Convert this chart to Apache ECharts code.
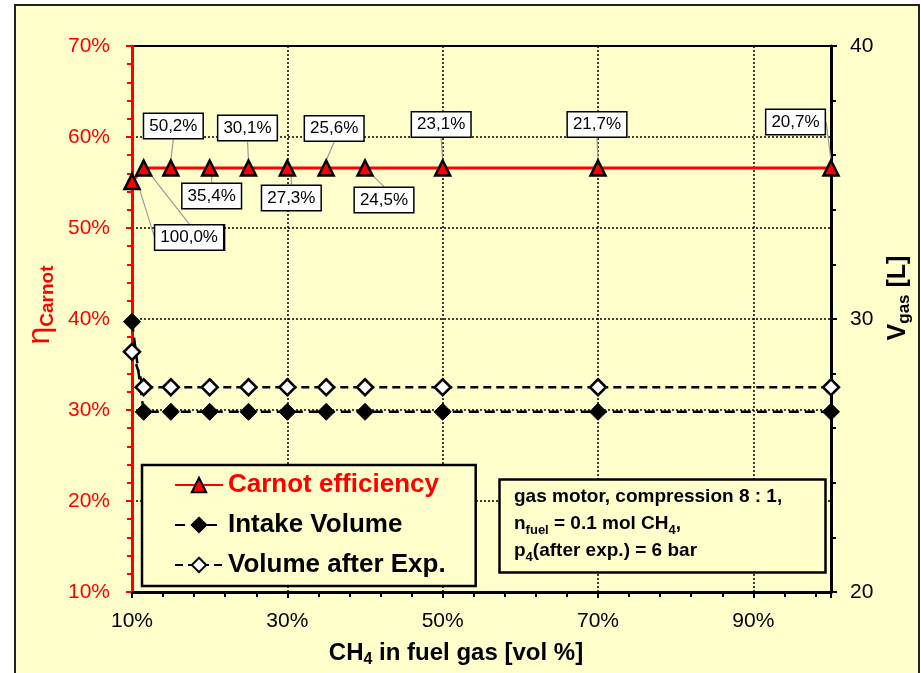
<!DOCTYPE html>
<html>
<head>
<meta charset="utf-8">
<script src="https://cdn.jsdelivr.net/npm/echarts@6/dist/echarts.min.js"></script>
<style>
  html, body { margin: 0; padding: 0; background: #ffffff; }
  #chart { width: 921px; height: 673px; }
</style>
</head>
<body>
<div id="chart"></div>
<script>
// CH4 share in the fuel gas [vol %]
const ch4Share = [10, 11.5, 15, 20, 25, 30, 35, 40, 50, 70, 100];
// Carnot efficiency [%] (left axis)
const carnotEff = [55.1, 56.6, 56.6, 56.6, 56.6, 56.6, 56.6, 56.6, 56.6, 56.6, 56.6];
// Gas volumes [L] (right axis)
const intakeVol = [29.9, 26.6, 26.6, 26.6, 26.6, 26.6, 26.6, 26.6, 26.6, 26.6, 26.6];
const expVol = [28.8, 27.5, 27.5, 27.5, 27.5, 27.5, 27.5, 27.5, 27.5, 27.5, 27.5];
// Annotation attached to each Carnot point
const pointLabels = ['100,0%', '100,0%', '50,2%', '35,4%', '30,1%', '27,3%', '25,6%', '24,5%', '23,1%', '21,7%', '20,7%'];
// Series names
const seriesNames = ['Carnot efficiency', 'Intake Volume', 'Volume after Exp.'];

// Pixel shift of each annotation box away from its point
const labelShift = [[58, 56], [45.5, 69.5], [2.5, -42], [2, 28], [-1, -40], [4, 30], [8, -39.5], [19, 32], [-1.5, -43.5], [-1, -43.5], [-35.5, -46]];

const pair = (xs, ys) => xs.map((x, i) => [x, ys[i]]);

const YELLOW = '#FFFFCC';
const FONT = 'Liberation Sans';

const chart = echarts.init(document.getElementById('chart'), null, { renderer: 'canvas' });

chart.setOption({
  animation: false,
  backgroundColor: '#ffffff',
  textStyle: { fontFamily: FONT },
  graphic: [{
    type: 'rect',
    z: -100,
    silent: true,
    shape: { x: 15, y: 5, width: 904, height: 700 },
    style: { fill: YELLOW, stroke: '#222', lineWidth: 2 }
  }],
  grid: {
    left: 132, right: 90, top: 46, bottom: 81,
    show: true, backgroundColor: 'transparent', borderColor: '#000', borderWidth: 2
  },
  title: {
    left: 499, top: 475,
    text: '{b|gas motor, compression 8 : 1,}\n{b|n}{s|fuel}{b| = 0.1 mol CH}{s|4}{b|,}\n{b|p}{s|4}{b|(after exp.) = 6 bar}',
    padding: [8, 44, 9, 15],
    borderColor: '#000', borderWidth: 2.5, backgroundColor: YELLOW,
    textStyle: {
      rich: {
        b: { fontSize: 19, fontWeight: 'bold', lineHeight: 27, color: '#000', fontFamily: FONT },
        s: { fontSize: 13, fontWeight: 'bold', color: '#000', verticalAlign: 'bottom', fontFamily: FONT }
      }
    }
  },
  legend: {
    orient: 'vertical', left: 142, top: 465,
    padding: [7, 30, 8, 32],
    itemWidth: 48, itemHeight: 18, itemGap: 14,
    backgroundColor: YELLOW, borderColor: '#000', borderWidth: 2.5, borderRadius: 0,
    textStyle: { fontSize: 26, fontWeight: 'bold', fontFamily: FONT, lineHeight: 26 },
    data: [
      { name: seriesNames[0], textStyle: { color: '#FF0000' } },
      { name: seriesNames[1], textStyle: { color: '#000' } },
      { name: seriesNames[2], textStyle: { color: '#000' } }
    ]
  },
  xAxis: {
    type: 'value', min: 10, max: 100, interval: 20,
    name: '{a|CH}{s|4}{a| in fuel gas [vol %]}',
    nameLocation: 'middle', nameGap: 46,
    nameTextStyle: {
      padding: [0, 51, 0, 0],
      rich: {
        a: { fontSize: 24, fontWeight: 'bold', color: '#000', lineHeight: 30, fontFamily: FONT },
        s: { fontSize: 16, fontWeight: 'bold', color: '#000', verticalAlign: 'bottom', fontFamily: FONT }
      }
    },
    axisLine: { lineStyle: { color: '#000', width: 3 } },
    axisTick: { show: true, length: 6, lineStyle: { color: '#000', width: 2 } },
    minorTick: { show: true, splitNumber: 5, length: 5, lineStyle: { color: '#000', width: 2 } },
    axisLabel: { formatter: '{value}%', fontSize: 21, color: '#000', margin: 19, showMaxLabel: false },
    splitLine: { show: true, lineStyle: { color: '#000', width: 1.5, type: [2, 2] } }
  },
  yAxis: [{
    type: 'value', min: 10, max: 70, interval: 10, position: 'left',
    name: '{e|η}{c|Carnot}',
    nameLocation: 'middle', nameGap: 70,
    nameTextStyle: {
      padding: [0, 0, 0, 28],
      rich: {
        e: { fontSize: 32, color: '#FF0000', lineHeight: 34, fontFamily: FONT },
        c: { fontSize: 19, fontWeight: 'bold', color: '#FF0000', verticalAlign: 'bottom', fontFamily: FONT }
      }
    },
    axisLine: { show: true, lineStyle: { color: '#FF0000', width: 3 } },
    axisTick: { show: true, length: 6, lineStyle: { color: '#FF0000', width: 2 } },
    minorTick: { show: true, splitNumber: 5, length: 5, lineStyle: { color: '#FF0000', width: 2 } },
    axisLabel: { formatter: '{value}%', fontSize: 21, color: '#FF0000', margin: 22 },
    splitLine: { show: true, lineStyle: { color: '#000', width: 1.5, type: [2, 2] } }
  }, {
    type: 'value', min: 20, max: 40, interval: 10, position: 'right',
    name: '{v|V}{s|gas}{v| [L]}',
    nameLocation: 'middle', nameGap: 52,
    nameTextStyle: {
      padding: [0, 0, 0, 42],
      rich: {
        v: { fontSize: 25, fontWeight: 'bold', color: '#000', lineHeight: 30, fontFamily: FONT },
        s: { fontSize: 17, fontWeight: 'bold', color: '#000', verticalAlign: 'bottom', fontFamily: FONT }
      }
    },
    axisLine: { show: true, lineStyle: { color: '#000', width: 3 } },
    axisTick: { show: true, length: 6, lineStyle: { color: '#000', width: 2 } },
    minorTick: { show: true, splitNumber: 5, length: 5, lineStyle: { color: '#000', width: 2 } },
    axisLabel: { fontSize: 21, color: '#000', margin: 19 },
    splitLine: { show: false }
  }],
  series: [{
    name: seriesNames[0],
    type: 'line',
    yAxisIndex: 0,
    z: 5,
    data: pair(ch4Share, carnotEff),
    symbol: 'triangle', symbolSize: 15,
    lineStyle: { color: '#FF0000', width: 3 },
    itemStyle: { color: '#FF0000', borderColor: '#000', borderWidth: 2.5 },
    label: {
      show: true,
      position: 'inside',
      formatter: (p) => pointLabels[p.dataIndex],
      fontSize: 17, color: '#000', fontFamily: FONT,
      backgroundColor: '#ffffff', borderColor: '#000', borderWidth: 1.5,
      padding: [4, 5, 3, 5]
    },
    labelLine: { show: true, lineStyle: { color: '#9a9a9a', width: 1.2 } },
    labelLayout: (p) => ({ dx: labelShift[p.dataIndex][0], dy: labelShift[p.dataIndex][1] })
  }, {
    name: seriesNames[1],
    type: 'line',
    yAxisIndex: 1,
    z: 4,
    data: pair(ch4Share, intakeVol),
    symbol: 'diamond', symbolSize: 17,
    lineStyle: { color: '#000', width: 2.5, type: [10, 6] },
    itemStyle: { color: '#000', borderColor: '#000', borderWidth: 1 }
  }, {
    name: seriesNames[2],
    type: 'line',
    yAxisIndex: 1,
    z: 4,
    data: pair(ch4Share, expVol),
    symbol: 'diamond', symbolSize: 16,
    lineStyle: { color: '#000', width: 2.5, type: [8, 5] },
    itemStyle: { color: '#ffffff', borderColor: '#000', borderWidth: 2.5 }
  }]
});
</script>
</body>
</html>
